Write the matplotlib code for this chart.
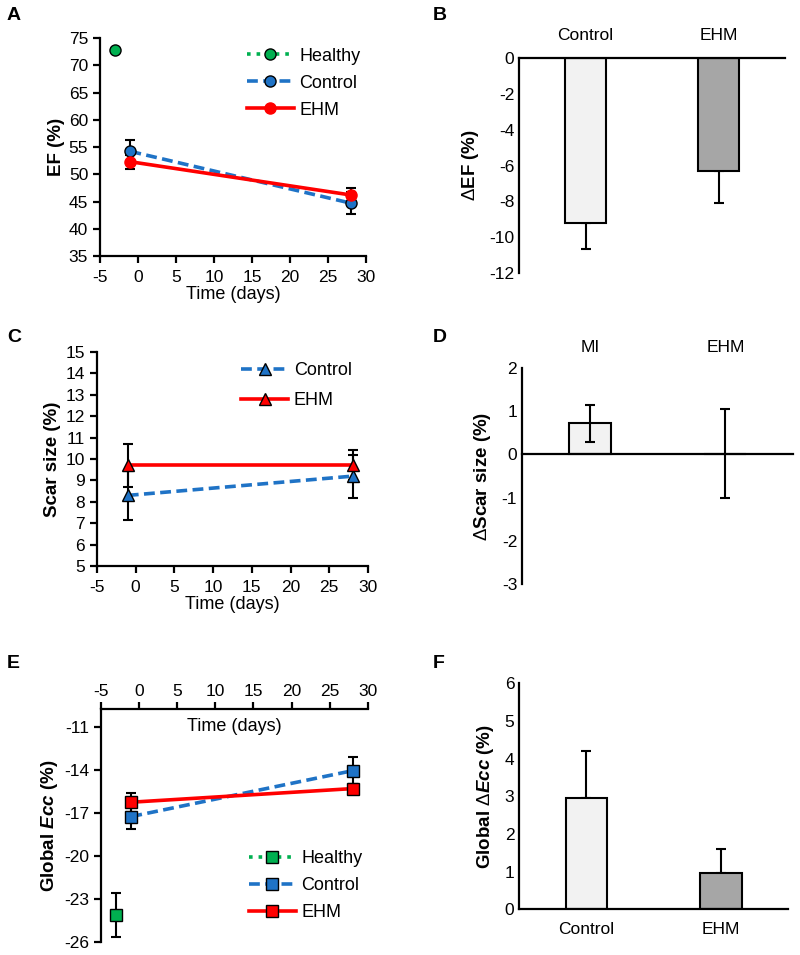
import matplotlib
matplotlib.use("Agg")
import matplotlib.pyplot as plt

plt.rcParams['font.family'] = ['Liberation Sans', 'DejaVu Sans']
plt.rcParams['axes.unicode_minus'] = False
plt.rcParams['mathtext.fontset'] = 'custom'
plt.rcParams['mathtext.rm'] = 'Liberation Sans'
plt.rcParams['mathtext.it'] = 'Liberation Sans:italic:bold'
plt.rcParams['mathtext.bf'] = 'Liberation Sans:bold'

# ---------------- data ----------------
days = [-1, 28]
healthy_day = [-3]

# Panel A: EF (%)
ef_healthy = [72.8]
ef_control = [54.2, 44.7]
ef_control_err = [2.1, 2.0]
ef_ehm = [52.3, 46.2]
ef_ehm_err = [1.3, 1.3]

# Panel B: delta EF
groups_B = ['Control', 'EHM']
d_ef = [-9.2, -6.3]
d_ef_err = [1.45, 1.8]

# Panel C: Scar size (%)
scar_control = [8.3, 9.2]
scar_control_err = [1.15, 1.0]
scar_ehm = [9.7, 9.7]
scar_ehm_err = [1.0, 0.7]

# Panel D: delta scar size
groups_D = ['MI', 'EHM']
d_scar = [0.72, 0.02]
d_scar_err = [0.43, 1.03]

# Panel E: Global Ecc (%)
ecc_healthy = [-24.1]
ecc_healthy_err = [1.55]
ecc_control = [-17.25, -14.05]
ecc_control_err = [0.9, 0.95]
ecc_ehm = [-16.25, -15.3]
ecc_ehm_err = [0.65, 0.35]

# Panel F: delta Ecc
groups_F = ['Control', 'EHM']
d_ecc = [2.95, 0.97]
d_ecc_err = [1.25, 0.64]

# ---------------- style ----------------
C_BLUE = '#1F73C6'
C_RED = '#FF0000'
C_GREEN = '#00B050'
BAR_LIGHT = '#F2F2F2'
BAR_DARK = '#A6A6A6'
SPW = 1.6
TICK_FS = 12.5
LAB_FS = 13
YLAB_FS = 13.5
LEG_FS = 13
LW = 2.6
MS = 8

fig = plt.figure(figsize=(8, 9.55), dpi=100)


def style_axes(ax):
    for s in ax.spines.values():
        s.set_linewidth(SPW)
    ax.tick_params(width=SPW, length=5, labelsize=TICK_FS, direction='out')


def line_panel(ax):
    style_axes(ax)
    ax.spines['top'].set_visible(False)
    ax.spines['right'].set_visible(False)
    ax.set_xlim(-5, 30)
    ax.set_xticks(range(-5, 31, 5))
    ax.tick_params(axis='x', pad=5)


def eb(ax, x, y, e):
    ax.errorbar(x, y, yerr=e, fmt='none', ecolor='black', elinewidth=1.5,
                capsize=3.5, capthick=1.5, zorder=2)


# ---------------- Panel A ----------------
axA = fig.add_axes([0.125, 0.7319, 0.3325, 0.2283])
line_panel(axA)
axA.set_ylim(35, 75)
axA.set_yticks(range(35, 76, 5))
eb(axA, days, ef_control, ef_control_err)
eb(axA, days, ef_ehm, ef_ehm_err)
axA.plot(healthy_day, ef_healthy, ls=':', color=C_GREEN, lw=LW, marker='o', ms=MS,
         mfc=C_GREEN, mec='black', mew=1.0, zorder=4, label='Healthy')
axA.plot(days, ef_control, ls='--', color=C_BLUE, lw=LW, marker='o', ms=MS,
         mfc=C_BLUE, mec='black', mew=1.0, zorder=3, label='Control', dashes=(3, 1.5))
axA.plot(days, ef_ehm, ls='-', color=C_RED, lw=LW, marker='o', ms=MS,
         mfc=C_RED, mec=C_RED, mew=1.0, zorder=4, label='EHM')
axA.set_xlabel('Time (days)', fontsize=LAB_FS, labelpad=1)
axA.set_ylabel('EF (%)', fontsize=YLAB_FS, fontweight='bold', labelpad=3)
axA.legend(loc='upper right', bbox_to_anchor=(1.04, 1.03), frameon=False,
           fontsize=LEG_FS, handlelength=2.6, labelspacing=0.55, handletextpad=0.3)

# ---------------- Panel B ----------------
axB = fig.add_axes([0.64875, 0.7141, 0.3325, 0.2251])
style_axes(axB)
axB.spines['bottom'].set_visible(False)
axB.spines['right'].set_visible(False)
xB = list(range(len(groups_B)))
axB.bar(xB, d_ef, width=0.31, color=[BAR_LIGHT, BAR_DARK], edgecolor='black',
        linewidth=1.5, zorder=2)
axB.errorbar(xB, d_ef, yerr=[d_ef_err, [0] * len(d_ef_err)], fmt='none', ecolor='black',
             elinewidth=1.5, capsize=3.5, capthick=1.5, zorder=1)
axB.set_xlim(-0.5, 1.5)
axB.set_ylim(-12, 0)
axB.set_yticks(range(-12, 1, 2))
axB.xaxis.tick_top()
axB.set_xticks(xB)
axB.set_xticklabels(groups_B)
axB.tick_params(axis='x', length=0, pad=11)
axB.tick_params(axis='y', length=0)
axB.set_ylabel(r'$\Delta$EF (%)', fontsize=YLAB_FS, fontweight='bold', labelpad=6)

# ---------------- Panel C ----------------
axC = fig.add_axes([0.121, 0.4073, 0.339, 0.2241])
line_panel(axC)
axC.set_ylim(5, 15)
axC.set_yticks(range(5, 16, 1))
eb(axC, days, scar_control, scar_control_err)
axC.plot(days, scar_control, ls='--', color=C_BLUE, lw=LW, marker='^', ms=MS + 1,
         mfc=C_BLUE, mec='black', mew=1.0, zorder=3, label='Control', dashes=(3, 1.5))
eb(axC, days, scar_ehm, scar_ehm_err)
axC.plot(days, scar_ehm, ls='-', color=C_RED, lw=LW, marker='^', ms=MS + 1,
         mfc=C_RED, mec='black', mew=1.0, zorder=4, label='EHM')
axC.set_xlabel('Time (days)', fontsize=LAB_FS, labelpad=1)
axC.set_ylabel('Scar size (%)', fontsize=YLAB_FS, fontweight='bold', labelpad=3)
axC.legend(loc='upper right', bbox_to_anchor=(1.0, 1.03), frameon=False,
           fontsize=LEG_FS, handlelength=2.6, labelspacing=0.75, handletextpad=0.3)

# ---------------- Panel D ----------------
axD = fig.add_axes([0.6525, 0.3885, 0.339, 0.2262])
style_axes(axD)
axD.spines['top'].set_visible(False)
axD.spines['right'].set_visible(False)
axD.spines['bottom'].set_position(('data', 0))
xD = list(range(len(groups_D)))
axD.bar(xD, d_scar, width=0.31, color=[BAR_LIGHT, BAR_DARK], edgecolor='black',
        linewidth=1.5, zorder=2)
axD.errorbar(xD, d_scar, yerr=d_scar_err, fmt='none', ecolor='black',
             elinewidth=1.5, capsize=3.5, capthick=1.5, zorder=3)
axD.set_xlim(-0.5, 1.5)
axD.set_ylim(-3, 2)
axD.set_yticks(range(-3, 3, 1))
axD.tick_params(axis='y', length=0)
axD.tick_params(axis='x', length=0, labelbottom=False)
for xi, g in zip(xD, groups_D):
    axD.text(xi, 1.06, g, transform=axD.get_xaxis_transform(), ha='center',
             va='bottom', fontsize=TICK_FS)
axD.set_ylabel(r'$\Delta$Scar size (%)', fontsize=YLAB_FS, fontweight='bold', labelpad=6)

# ---------------- Panel E ----------------
axE = fig.add_axes([0.126, 0.0136, 0.334, 0.244])
style_axes(axE)
axE.spines['bottom'].set_visible(False)
axE.spines['right'].set_visible(False)
axE.set_xlim(-5, 30)
axE.set_xticks(range(-5, 31, 5))
axE.xaxis.tick_top()
axE.tick_params(axis='x', pad=2)
axE.set_ylim(-26, -9.75)
axE.set_yticks(range(-26, -10, 3))
eb(axE, healthy_day, ecc_healthy, ecc_healthy_err)
eb(axE, days, ecc_control, ecc_control_err)
eb(axE, days, ecc_ehm, ecc_ehm_err)
axE.plot(healthy_day, ecc_healthy, ls=':', color=C_GREEN, lw=LW, marker='s', ms=MS,
         mfc=C_GREEN, mec='black', mew=1.0, zorder=4, label='Healthy')
axE.plot(days, ecc_control, ls='--', color=C_BLUE, lw=LW, marker='s', ms=MS,
         mfc=C_BLUE, mec='black', mew=1.0, zorder=3, label='Control', dashes=(3, 1.5))
axE.plot(days, ecc_ehm, ls='-', color=C_RED, lw=LW, marker='s', ms=MS,
         mfc=C_RED, mec='black', mew=1.0, zorder=4, label='EHM')
axE.text(0.5, 0.925, 'Time (days)', transform=axE.transAxes, ha='center', va='center',
         fontsize=LAB_FS)
axE.set_ylabel(r'Global $Ecc$ (%)', fontsize=YLAB_FS, fontweight='bold', labelpad=3)
axE.legend(loc='lower right', bbox_to_anchor=(1.04, 0.02), frameon=False,
           fontsize=LEG_FS, handlelength=2.6, labelspacing=0.55, handletextpad=0.3)

# ---------------- Panel F ----------------
axF = fig.add_axes([0.649, 0.048, 0.336, 0.2366])
style_axes(axF)
axF.spines['top'].set_visible(False)
axF.spines['right'].set_visible(False)
xF = list(range(len(groups_F)))
axF.bar(xF, d_ecc, width=0.31, color=[BAR_LIGHT, BAR_DARK], edgecolor='black',
        linewidth=1.5, zorder=2)
axF.errorbar(xF, d_ecc, yerr=[[0] * len(d_ecc_err), d_ecc_err], fmt='none', ecolor='black',
             elinewidth=1.5, capsize=3.5, capthick=1.5, zorder=1)
axF.set_xlim(-0.5, 1.5)
axF.set_ylim(0, 6)
axF.set_yticks(range(0, 7, 1))
axF.set_xticks(xF)
axF.set_xticklabels(groups_F)
axF.tick_params(axis='x', length=0, pad=9)
axF.tick_params(axis='y', length=0)
axF.set_ylabel(r'Global $\Delta Ecc$ (%)', fontsize=YLAB_FS, fontweight='bold', labelpad=6)

# ---------------- panel letters ----------------
for lab, (px, py) in {'A': (7, 15), 'B': (433, 15), 'C': (7, 337),
                      'D': (433, 337), 'E': (7, 663), 'F': (433, 663)}.items():
    fig.text(px / 800, 1 - py / 955, lab, fontsize=14, fontweight='bold',
             ha='left', va='center')

fig.savefig('out.png', dpi=100)
